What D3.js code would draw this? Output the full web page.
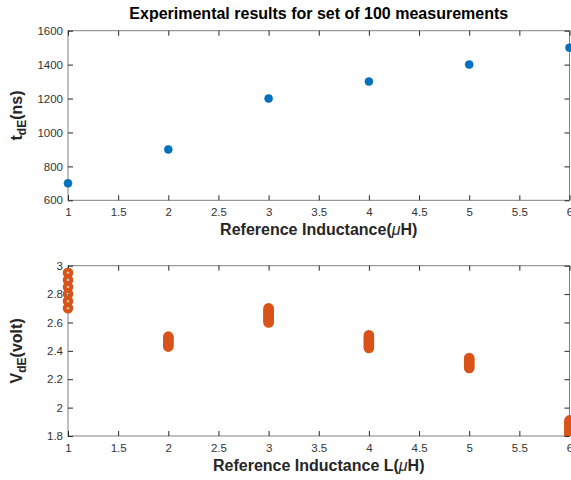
<!DOCTYPE html>
<html><head><meta charset="utf-8">
<script src="https://cdn.jsdelivr.net/npm/d3@7"></script>
<style>body{margin:0;background:#fff}svg{display:block;font-family:"Liberation Sans",Arial,sans-serif}</style>
</head><body><svg id="c" width="571" height="480"></svg>
<script>
// ---- data ----
const titleText = "Experimental results for set of 100 measurements";
const inductance = [1, 2, 3, 4, 5, 6];
const tdE = [700, 900, 1200, 1300, 1400, 1500];
const vdE = [
  [2.70, 2.75, 2.80, 2.85, 2.90, 2.95],
  [2.43, 2.44, 2.45, 2.46, 2.47, 2.48, 2.49, 2.50],
  [2.60, 2.61, 2.62, 2.63, 2.64, 2.65, 2.66, 2.67, 2.68, 2.69, 2.70],
  [2.42, 2.43, 2.44, 2.45, 2.46, 2.47, 2.48, 2.49, 2.50, 2.51],
  [2.28, 2.29, 2.30, 2.31, 2.32, 2.33, 2.34, 2.35],
  [1.80, 1.81, 1.82, 1.83, 1.84, 1.85, 1.86, 1.87, 1.88, 1.89, 1.90, 1.91]
];
const xTicks = [1, 1.5, 2, 2.5, 3, 3.5, 4, 4.5, 5, 5.5, 6];
const yTicksTop = [600, 800, 1000, 1200, 1400, 1600];
const yTicksBottom = [1.8, 2, 2.2, 2.4, 2.6, 2.8, 3];

const svg = d3.select("#c");
const L = 68, R = 569.5;
const x = d3.scaleLinear().domain([1, 6]).range([L, R]);

function panel(top, bottom, yDomain, yTicks, yFmt, xlabel, ylabelMain, ylabelSub, ylabelTail, id) {
  const y = d3.scaleLinear().domain(yDomain).range([bottom, top]);
  const g = svg.append("g");
  svg.append("clipPath").attr("id", id).append("rect")
    .attr("x", 0).attr("y", top).attr("width", 571).attr("height", bottom - top);
  g.append("rect").attr("x", L).attr("y", top).attr("width", R - L).attr("height", bottom - top)
    .attr("fill", "none").attr("stroke", "#808080").attr("stroke-width", 1);
  const xa = g.append("g").attr("transform", `translate(0,${bottom})`)
    .call(d3.axisBottom(x).tickValues(xTicks).tickSize(-5).tickPadding(8).tickFormat(d3.format("")));
  const xt = g.append("g").attr("transform", `translate(0,${top})`)
    .call(d3.axisTop(x).tickValues(xTicks).tickSize(-5).tickFormat(""));
  const ya = g.append("g").attr("transform", `translate(${L},0)`)
    .call(d3.axisLeft(y).tickValues(yTicks).tickSize(-5).tickPadding(5).tickFormat(yFmt));
  const yr = g.append("g").attr("transform", `translate(${R},0)`)
    .call(d3.axisRight(y).tickValues(yTicks).tickSize(-5).tickFormat(""));
  [xa, xt, ya, yr].forEach(a => {
    a.select(".domain").remove();
    a.selectAll(".tick line").attr("stroke", "#262626");
    a.selectAll(".tick text").attr("fill", "#333").style("font-size", "11.5px")
      .style("font-family", "Liberation Sans, Arial, sans-serif");
  });
  const t = g.append("text").attr("x", (L + R) / 2).attr("y", bottom + 35).attr("text-anchor", "middle")
    .attr("font-weight", "bold").attr("font-size", "16px").attr("fill", "#262626");
  t.append("tspan").text(xlabel);
  t.append("tspan").attr("font-style", "italic").attr("font-weight", "normal").text("\u03bc");
  t.append("tspan").text("H)");
  const yl = g.append("text").attr("transform", `translate(22,${(top + bottom) / 2}) rotate(-90)`)
    .attr("text-anchor", "middle").attr("font-weight", "bold").attr("font-size", "16px").attr("fill", "#262626");
  yl.append("tspan").text(ylabelMain);
  yl.append("tspan").attr("font-size", "12px").attr("dy", 4).text(ylabelSub);
  yl.append("tspan").attr("dy", -4).text(ylabelTail);
  return {y, g};
}

const p1 = panel(30.7, 200.3, [600, 1600], yTicksTop, d3.format(""), "Reference Inductance(", "t", "dE", "(ns)", "clipTop");
p1.g.append("g").attr("clip-path", "url(#clipTop)").selectAll("circle").data(inductance).join("circle")
  .attr("cx", (d) => x(d)).attr("cy", (d, i) => p1.y(tdE[i])).attr("r", 4)
  .attr("fill", "#0072BD").attr("stroke", "#0072BD").attr("stroke-width", 0.6);

const p2 = panel(265.7, 436, [1.8, 3], yTicksBottom, d3.format(""), "Reference Inductance L(", "V", "dE", "(volt)", "clipBot");
const pts = [];
inductance.forEach((xv, i) => vdE[i].forEach(v => pts.push([xv, v])));
p2.g.append("g").attr("clip-path", "url(#clipBot)").selectAll("circle").data(pts).join("circle")
  .attr("cx", d => x(d[0])).attr("cy", d => p2.y(d[1])).attr("r", 3.3)
  .attr("fill", "none").attr("stroke", "#D95319").attr("stroke-width", 4);

svg.append("text").attr("x", (L + R) / 2).attr("y", 18.5).attr("text-anchor", "middle")
  .attr("font-weight", "bold").attr("font-size", "16px").attr("fill", "#000").text(titleText);
</script></body></html>
